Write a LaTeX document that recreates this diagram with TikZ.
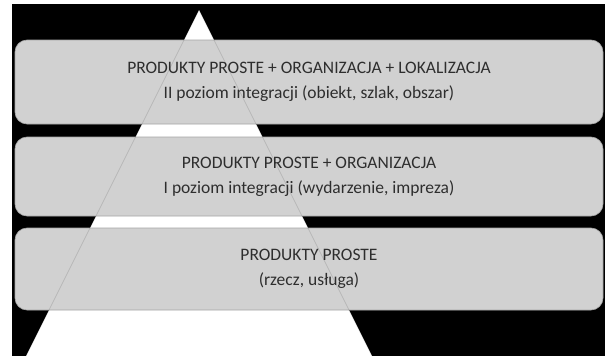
\documentclass[tikz,border=0pt]{standalone}
\usepackage{fontspec}
\setmainfont{Carlito}
\newlength{\du}
\setlength{\du}{1pt}
\definecolor{dialinecolor}{rgb}{0.000000, 0.000000, 0.000000}
\definecolor{boxfill}{rgb}{0.820000, 0.820000, 0.820000}
\definecolor{boxline}{rgb}{0.650000, 0.650000, 0.650000}
\definecolor{textcolor}{rgb}{0.180000, 0.180000, 0.180000}
\tikzset{
  levelbox/.style={draw=boxline, line width=0.6\du, fill=boxfill, rounded corners=12\du,
    minimum width=588\du, align=center, text=textcolor,
    font=\fontsize{17.5}{25}\selectfont},
  pyramidedge/.style={draw=dialinecolor, line width=0.8\du, draw opacity=0.12}
}

\begin{document}
\begin{tikzpicture}
\pgftransformyscale{-1.000000}
\useasboundingbox (0\du,0\du) rectangle (605\du,356\du);
% background
\fill[dialinecolor] (12\du,4\du) rectangle (605\du,356\du);
% pyramid
\coordinate (apex) at (199\du,10\du);
\coordinate (baseleft) at (26\du,356\du);
\coordinate (baseright) at (372\du,356\du);
\fill[white] (apex)--(baseright)--(baseleft)--cycle;
% levels
\node[levelbox, minimum height=84\du] (level3) at (309\du,82\du)
  {PRODUKTY PROSTE + ORGANIZACJA + LOKALIZACJA\\II poziom integracji (obiekt, szlak, obszar)};
\node[levelbox, minimum height=79\du] (level2) at (309\du,176.5\du)
  {PRODUKTY PROSTE + ORGANIZACJA\\I poziom integracji (wydarzenie, impreza)};
\node[levelbox, minimum height=82\du] (level1) at (309\du,269\du)
  {PRODUKTY PROSTE\\(rzecz, usługa)};
% edges seen through the boxes
\draw[pyramidedge] (baseleft)--(apex)--(baseright);
\end{tikzpicture}
\end{document}
